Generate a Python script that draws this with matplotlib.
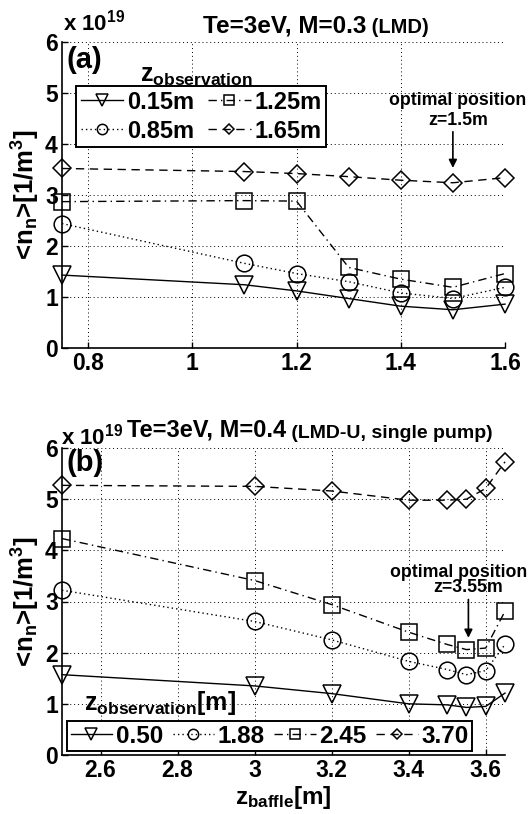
import matplotlib
matplotlib.use('Agg')
import matplotlib.pyplot as plt

plt.rcParams['font.family'] = ['Liberation Sans', 'DejaVu Sans']
plt.rcParams['font.weight'] = 'bold'
plt.rcParams['mathtext.fontset'] = 'custom'
plt.rcParams['mathtext.rm'] = 'Liberation Sans:bold'
plt.rcParams['mathtext.it'] = 'Liberation Sans:bold'
plt.rcParams['mathtext.bf'] = 'Liberation Sans:bold'
plt.rcParams['mathtext.default'] = 'rm'

# ---------------- data ----------------
zb_a = [0.75, 1.1, 1.2, 1.3, 1.4, 1.5, 1.6]
a_015 = [1.43, 1.24, 1.12, 0.97, 0.82, 0.75, 0.86]
a_085 = [2.44, 1.66, 1.46, 1.30, 1.08, 0.97, 1.19]
a_125 = [2.87, 2.89, 2.88, 1.58, 1.35, 1.19, 1.46]
a_165 = [3.52, 3.46, 3.42, 3.36, 3.29, 3.24, 3.34]
labels_a = ['0.15m', '0.85m', '1.25m', '1.65m']
xticks_a = [0.8, 1.0, 1.2, 1.4, 1.6]
xticklabels_a = ['0.8', '1', '1.2', '1.4', '1.6']

zb_b = [2.5, 3.0, 3.2, 3.4, 3.5, 3.55, 3.6, 3.65]
b_050 = [1.57, 1.35, 1.20, 1.00, 0.98, 0.93, 0.95, 1.21]
b_188 = [3.22, 2.61, 2.25, 1.83, 1.67, 1.57, 1.65, 2.16]
b_245 = [4.23, 3.41, 2.94, 2.40, 2.16, 2.06, 2.09, 2.81]
b_370 = [5.27, 5.25, 5.16, 4.98, 4.98, 5.00, 5.21, 5.73]
labels_b = ['0.50', '1.88', '2.45', '3.70']
xticks_b = [2.6, 2.8, 3.0, 3.2, 3.4, 3.6]
xticklabels_b = ['2.6', '2.8', '3', '3.2', '3.4', '3.6']

yticks = [0, 1, 2, 3, 4, 5, 6]

# ---------------- styles ----------------
styles = [
    dict(marker='v', ls='-', ms=13),
    dict(marker='o', ls=(0, (1, 2.2)), ms=12),
    dict(marker='s', ls=(0, (6, 3, 1, 3)), ms=11),
    dict(marker='D', ls=(0, (6, 4)), ms=9),
]

W, H = 528, 814
fig = plt.figure(figsize=(W / 100, H / 100), dpi=100)


def fx(px):
    return px / W


def fy(py):
    return 1 - py / H


def setup(ax, xlim, xt, xtl):
    ax.set_xlim(*xlim)
    ax.set_ylim(0, 6)
    ax.set_xticks(xt)
    ax.set_xticklabels(xtl)
    ax.set_yticks(yticks)
    ax.set_yticklabels([str(v) for v in yticks])
    ax.spines['top'].set_visible(False)
    ax.spines['right'].set_visible(False)
    ax.spines['left'].set_linewidth(1.2)
    ax.spines['bottom'].set_linewidth(1.2)
    ax.tick_params(direction='in', length=4, width=1, labelsize=16.5, pad=3,
                   top=False, right=False)
    for lab in ax.get_xticklabels() + ax.get_yticklabels():
        lab.set_fontweight('bold')
    ax.grid(True, color='black', lw=0.7, ls=(0, (1, 3)))
    ax.set_axisbelow(True)
    ax.set_ylabel('<n$_\\mathrm{n}$>[1/m$^\\mathrm{3}$]', fontsize=18.5,
                  fontweight='bold', labelpad=2)


def plot_series(ax, x, ys, labels):
    handles = []
    for y, lab, st in zip(ys, labels, styles):
        h, = ax.plot(x, y, color='black', lw=1.0, ls=st['ls'], marker=st['marker'],
                     ms=st['ms'], mfc='none', mec='black', mew=1.1, label=lab,
                     clip_on=False, zorder=3)
        handles.append(h)
    return handles


def style_legend(leg):
    leg.get_frame().set_linewidth(1.4)
    for t in leg.get_texts():
        t.set_fontweight('bold')


# ---------------- panel (a) ----------------
ax1 = fig.add_axes([fx(62), fy(348), fx(505) - fx(62), fy(42) - fy(348)])
setup(ax1, (0.75, 1.6), xticks_a, xticklabels_a)
h1 = plot_series(ax1, zb_a, [a_015, a_085, a_125, a_165], labels_a)
leg1 = fig.legend(handles=h1, loc='upper left', bbox_to_anchor=(fx(76), fy(86)),
                  ncol=2, fontsize=17, markerscale=0.62, handlelength=1.8,
                  handletextpad=0.15, columnspacing=0.6, labelspacing=0.25,
                  borderpad=0.2, fancybox=False, framealpha=1, edgecolor='black',
                  borderaxespad=0)
style_legend(leg1)

fig.text(fx(140), fy(82), r'z$_\mathrm{observation}$', fontsize=18, fontweight='bold',
         va='baseline', ha='left')
fig.text(fx(66), fy(60), '(a)', fontsize=21, fontweight='bold', va='center', ha='left')
fig.text(fx(63), fy(31), r'x 10$^\mathrm{19}$', fontsize=16, fontweight='bold',
         va='baseline', ha='left')
t1 = fig.text(fx(203), fy(32), 'Te=3eV, M=0.3', fontsize=17.5, fontweight='bold',
              va='baseline', ha='left')
ax1.annotate(' (LMD)', xy=(1, 0), xycoords=t1, fontsize=14.5, fontweight='bold',
             va='bottom', ha='left')

ax1.annotate('', xy=(1.5, 3.53), xytext=(1.5, 4.24),
             arrowprops=dict(arrowstyle='-|>', color='black', lw=1.2,
                             mutation_scale=12, shrinkA=0, shrinkB=0))
ax1.text(1.51, 4.86, 'optimal position', fontsize=12.8, fontweight='bold',
         ha='center', va='center')
ax1.text(1.51, 4.47, 'z=1.5m', fontsize=12.8, fontweight='bold',
         ha='center', va='center')

# ---------------- panel (b) ----------------
ax2 = fig.add_axes([fx(62), fy(755), fx(505) - fx(62), fy(448) - fy(755)])
setup(ax2, (2.5, 3.65), xticks_b, xticklabels_b)
h2 = plot_series(ax2, zb_b, [b_050, b_188, b_245, b_370], labels_b)
ax2.set_xlabel(r'z$_\mathrm{baffle}$[m]', fontsize=17.5, fontweight='bold', labelpad=1)
leg2 = fig.legend(handles=h2, loc='upper left', bbox_to_anchor=(fx(67), fy(721)),
                  ncol=4, fontsize=17.5, markerscale=0.62, handlelength=1.7,
                  handletextpad=0.15, columnspacing=0.4, labelspacing=0.3,
                  borderpad=0.15, fancybox=False, framealpha=1, edgecolor='black',
                  borderaxespad=0)
style_legend(leg2)
fig.text(fx(84), fy(710), r'z$_\mathrm{observation}$[m]', fontsize=18, fontweight='bold',
         va='baseline', ha='left')
fig.text(fx(66), fy(463), '(b)', fontsize=21, fontweight='bold', va='center', ha='left')
fig.text(fx(61), fy(445), r'x 10$^\mathrm{19}$', fontsize=16, fontweight='bold',
         va='baseline', ha='left')
t2 = fig.text(fx(127), fy(437), 'Te=3eV, M=0.4', fontsize=17, fontweight='bold',
              va='baseline', ha='left')
ax2.annotate(' (LMD-U, single pump)', xy=(1, 0), xycoords=t2, fontsize=14,
             fontweight='bold', va='bottom', ha='left')

ax2.annotate('', xy=(3.555, 2.29), xytext=(3.555, 3.04),
             arrowprops=dict(arrowstyle='-|>', color='black', lw=1.2,
                             mutation_scale=12, shrinkA=0, shrinkB=0))
ax2.text(3.53, 3.57, 'optimal position', fontsize=12.8, fontweight='bold',
         ha='center', va='center')
ax2.text(3.555, 3.27, 'z=3.55m', fontsize=12.8, fontweight='bold',
         ha='center', va='center')

fig.savefig('out.png', dpi=100)
